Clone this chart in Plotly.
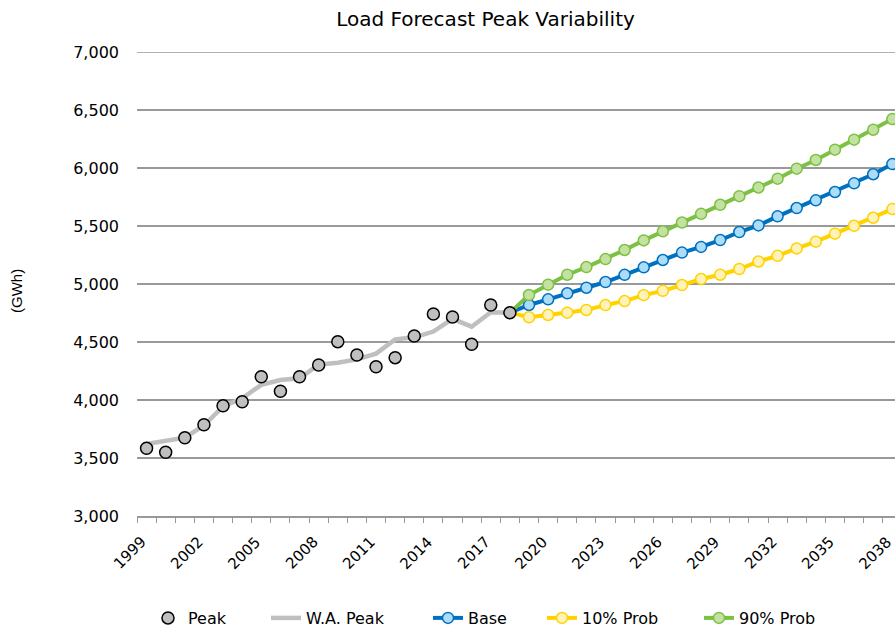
import plotly.graph_objects as go

# Historical peaks and weather-adjusted peaks, 1999-2018 (GWh)
hist_years = list(range(1999, 2019))
peak = [3584, 3549, 3675, 3787, 3951, 3985, 4201, 4075, 4201, 4302,
        4503, 4388, 4287, 4365, 4552, 4741, 4715, 4480, 4819, 4753]
wa_peak = [3621, 3645, 3675, 3780, 3945, 4015, 4130, 4172, 4187, 4305,
           4322, 4350, 4400, 4523, 4540, 4590, 4700, 4632, 4756, 4753]

# Forecast scenarios, 2018-2038 (GWh)
fc_years = list(range(2018, 2039))
base = [4753, 4819, 4868, 4920, 4968, 5017, 5079, 5144, 5207, 5271, 5320,
        5379, 5448, 5505, 5583, 5655, 5721, 5793, 5868, 5946, 6034]
prob10 = [4753, 4713, 4733, 4753, 4776, 4818, 4853, 4904, 4941, 4991, 5043,
          5080, 5129, 5194, 5243, 5307, 5365, 5434, 5502, 5571, 5646]
prob90 = [4753, 4905, 4994, 5080, 5146, 5215, 5293, 5376, 5454, 5530, 5605,
          5683, 5757, 5832, 5908, 5994, 6069, 6158, 6244, 6330, 6422]

tick_years = list(range(1999, 2039, 3))
tick_labels = [str(y) for y in tick_years]
y_min, y_max = 3000, 7000

FONT = "DejaVu Sans"
W, H = 895, 632
GRID = "#999999"

fig = go.Figure()

fig.add_trace(go.Scatter(
    x=hist_years, y=wa_peak, name="W.A. Peak", mode="lines",
    line=dict(color="#BFBFBF", width=4.5), legend="legend2"))

fig.add_trace(go.Scatter(
    x=fc_years, y=base, name="Base", mode="lines+markers",
    line=dict(color="#0070C0", width=4),
    marker=dict(size=11, color="#ABDCF8", line=dict(color="#0070C0", width=1.5)),
    legend="legend3"))

fig.add_trace(go.Scatter(
    x=fc_years, y=prob10, name="10% Prob", mode="lines+markers",
    line=dict(color="#FFD200", width=4),
    marker=dict(size=11, color="#FFF3BA", line=dict(color="#FFD200", width=1.5)),
    legend="legend4"))

fig.add_trace(go.Scatter(
    x=fc_years, y=prob90, name="90% Prob", mode="lines+markers",
    line=dict(color="#7DC143", width=4),
    marker=dict(size=11, color="#C3E1A0", line=dict(color="#7DC143", width=1.5)),
    legend="legend5"))

fig.add_trace(go.Scatter(
    x=hist_years, y=peak, name="Peak", mode="markers",
    marker=dict(size=12, color="#BFBFBF", line=dict(color="#000000", width=1.5)),
    legend="legend"))

legend_font = dict(family=FONT, size=16, color="#000000")


def legend_at(px):
    return dict(orientation="h", xref="container", yref="container",
                x=px / W, y=1 - 618 / H, xanchor="left", yanchor="middle",
                font=legend_font, bgcolor="rgba(0,0,0,0)")


# Slanted year labels, each set just left of and below its category
year_labels = [dict(text=t, x=yr, xref="x", y=0, yref="paper",
                    xshift=-17, yshift=-37, textangle=-45, showarrow=False,
                    xanchor="center", yanchor="middle",
                    font=dict(family=FONT, size=15, color="#000000"))
               for yr, t in zip(tick_years, tick_labels)]

fig.update_layout(
    width=W, height=H,
    margin=dict(l=137, r=0, t=52, b=116, autoexpand=False),
    paper_bgcolor="white", plot_bgcolor="white",
    font=dict(family=FONT, size=16, color="#000000"),
    title=dict(text="Load Forecast Peak Variability", x=485.5 / W, xref="container",
               y=1 - 19 / H, yref="container", xanchor="center", yanchor="middle",
               font=dict(family=FONT, size=20, color="#000000")),
    showlegend=True,
    legend=legend_at(148),
    legend2=legend_at(266),
    legend3=legend_at(428),
    legend4=legend_at(542),
    legend5=legend_at(699),
    xaxis=dict(
        range=[1998.5, 2038.14], automargin=False,
        tickvals=tick_years, showticklabels=False,
        ticks="", showgrid=False, zeroline=False,
        showline=True, linecolor=GRID, linewidth=1.5,
        minor=dict(tickvals=[y - 0.5 for y in range(1999, 2040)],
                   ticks="outside", ticklen=5, tickcolor=GRID,
                   tickwidth=1, showgrid=False),
    ),
    yaxis=dict(
        range=[y_min, y_max], dtick=500, tickformat=",", automargin=False,
        showgrid=True, gridcolor=GRID, gridwidth=1.5,
        zeroline=False, showline=False, ticks="",
        ticklabelstandoff=17,
        tickfont=dict(family=FONT, size=16, color="#000000"),
    ),
    # top gridline at the upper end of the value range
    shapes=[dict(type="line", xref="paper", x0=0, x1=1, yref="y",
                 y0=y_max, y1=y_max, layer="below",
                 line=dict(color=GRID, width=1.5))],
    annotations=year_labels + [dict(
        text="(GWh)", textangle=-90, xref="paper", yref="paper",
        x=(16 - 137) / 758, y=(516 - 291) / 464, showarrow=False,
        xanchor="center", yanchor="middle",
        font=dict(family="Liberation Sans", size=15, color="#000000"))],
)

fig.write_html("out.html")
